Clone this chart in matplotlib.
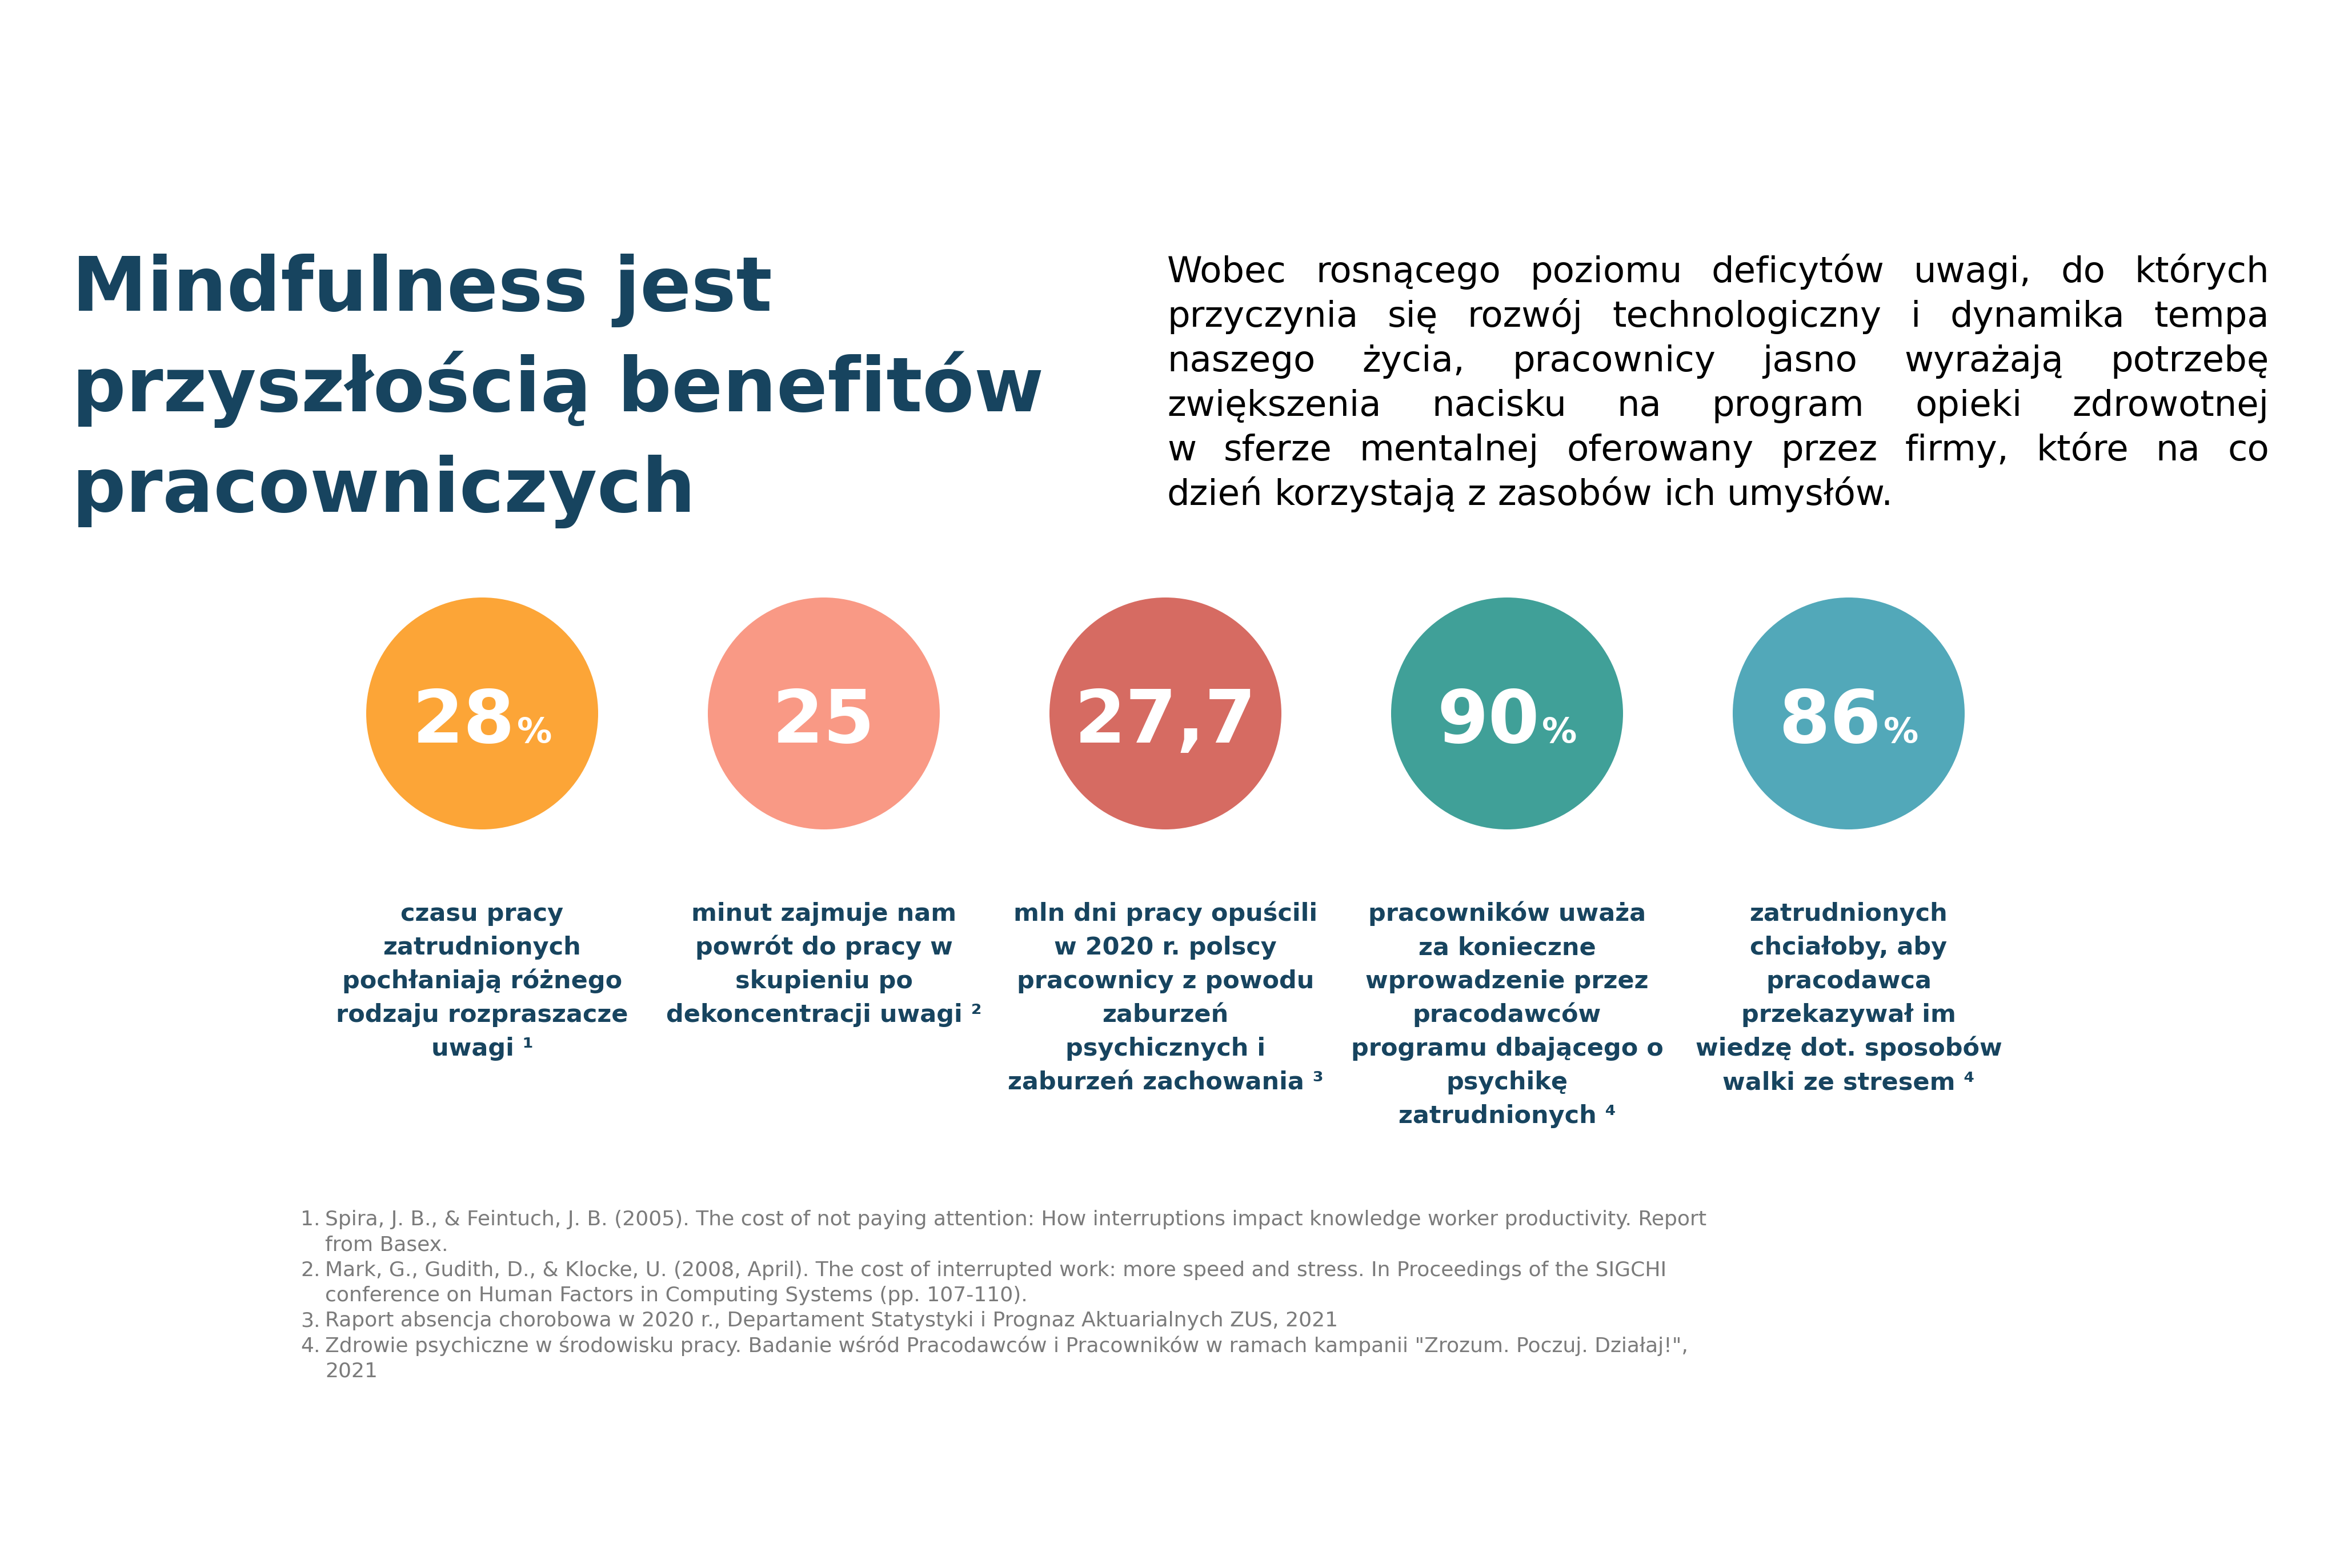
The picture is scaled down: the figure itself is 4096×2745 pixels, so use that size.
import matplotlib
matplotlib.use('Agg')
import matplotlib.pyplot as plt
import matplotlib.patches as mpatches

W, H = 4096, 2745
NAVY = '#17445f'
GREY = '#7b7b7b'
plt.rcParams['font.family'] = ['DejaVu Sans']

# ===== data =====
title_lines = ['Mindfulness jest', 'przyszłością benefitów', 'pracowniczych']
intro_lines = [
    'Wobec rosnącego poziomu deficytów uwagi, do których',
    'przyczynia się rozwój technologiczny i dynamika tempa',
    'naszego życia, pracownicy jasno wyrażają potrzebę',
    'zwiększenia nacisku na program opieki zdrowotnej',
    'w sferze mentalnej oferowany przez firmy, które na co',
    'dzień korzystają z zasobów ich umysłów.',
]
values = ['28', '25', '27,7', '90', '86']
units = ['%', '', '', '%', '%']
circle_colors = ['#fca537', '#f99985', '#d66b62', '#40a098', '#52a8b9']
descriptions = [
    ['czasu pracy', 'zatrudnionych', 'pochłaniają różnego', 'rodzaju rozpraszacze', 'uwagi ¹'],
    ['minut zajmuje nam', 'powrót do pracy w', 'skupieniu po', 'dekoncentracji uwagi ²'],
    ['mln dni pracy opuścili', 'w 2020 r. polscy', 'pracownicy z powodu', 'zaburzeń',
     'psychicznych i', 'zaburzeń zachowania ³'],
    ['pracowników uważa', 'za konieczne', 'wprowadzenie przez', 'pracodawców',
     'programu dbającego o', 'psychikę', 'zatrudnionych ⁴'],
    ['zatrudnionych', 'chciałoby, aby', 'pracodawca', 'przekazywał im',
     'wiedzę dot. sposobów', 'walki ze stresem ⁴'],
]
footnotes = [
    ['Spira, J. B., & Feintuch, J. B. (2005). The cost of not paying attention: How interruptions impact knowledge worker productivity. Report',
     'from Basex.'],
    ['Mark, G., Gudith, D., & Klocke, U. (2008, April). The cost of interrupted work: more speed and stress. In Proceedings of the SIGCHI',
     'conference on Human Factors in Computing Systems (pp. 107-110).'],
    ['Raport absencja chorobowa w 2020 r., Departament Statystyki i Prognaz Aktuarialnych ZUS, 2021'],
    ['Zdrowie psychiczne w środowisku pracy. Badanie wśród Pracodawców i Pracowników w ramach kampanii "Zrozum. Poczuj. Działaj!",',
     '2021'],
]

fig = plt.figure(figsize=(W / 100, H / 100), dpi=100)
ax = fig.add_axes([0, 0, 1, 1])
ax.set_xlim(0, W); ax.set_ylim(H, 0); ax.axis('off')
renderer = fig.canvas.get_renderer()

def width_of(t):
    return t.get_window_extent(renderer).width

# title
for i, line in enumerate(title_lines):
    ax.text(126, 544 + i * 176, line, fontsize=95, fontweight='bold', color=NAVY,
            ha='left', va='baseline')

# justified intro paragraph
PFS = 45
x0, x1 = 2043, 3972
for i, line in enumerate(intro_lines):
    y = 494 + i * 78
    words = line.split()
    texts = [ax.text(0, y, w, fontsize=PFS, color='black', ha='left', va='baseline') for w in words]
    widths = [width_of(t) for t in texts]
    if i == len(intro_lines) - 1:
        gap = width_of(ax.text(0, 0, 'a a', fontsize=PFS, alpha=0)) - 2 * width_of(ax.text(0, 0, 'a', fontsize=PFS, alpha=0))
    else:
        gap = (x1 - x0 - sum(widths)) / (len(words) - 1)
    x = x0
    for t, w in zip(texts, widths):
        t.set_x(x)
        x += w + gap

# circles with values
cx = [844, 1442, 2040, 2638, 3236]
cy, r = 1249, 203
for i in range(len(values)):
    ax.add_patch(mpatches.Circle((cx[i], cy), r, facecolor=circle_colors[i], edgecolor='none'))
    tn = ax.text(0, 1300, values[i], fontsize=93, fontweight='bold', color='white', ha='left', va='baseline')
    wn = width_of(tn)
    wu = 0
    if units[i]:
        tu = ax.text(0, 1300, units[i], fontsize=44, fontweight='bold', color='white', ha='left', va='baseline')
        wu = width_of(tu) + 4
    left = cx[i] - (wn + wu) / 2
    tn.set_x(left)
    if units[i]:
        tu.set_x(left + wn + 4)
    for j, line in enumerate(descriptions[i]):
        ax.text(cx[i], 1612 + j * 59, line, fontsize=31, fontweight='bold', color=NAVY,
                ha='center', va='baseline')

# footnotes
y = 2145
for k, lines in enumerate(footnotes):
    ax.text(526, y, f'{k + 1}.', fontsize=26, color=GREY, ha='left', va='baseline')
    for line in lines:
        ax.text(569, y, line, fontsize=26, color=GREY, ha='left', va='baseline')
        y += 44.3

fig.savefig('out.png', dpi=100, facecolor='white')
